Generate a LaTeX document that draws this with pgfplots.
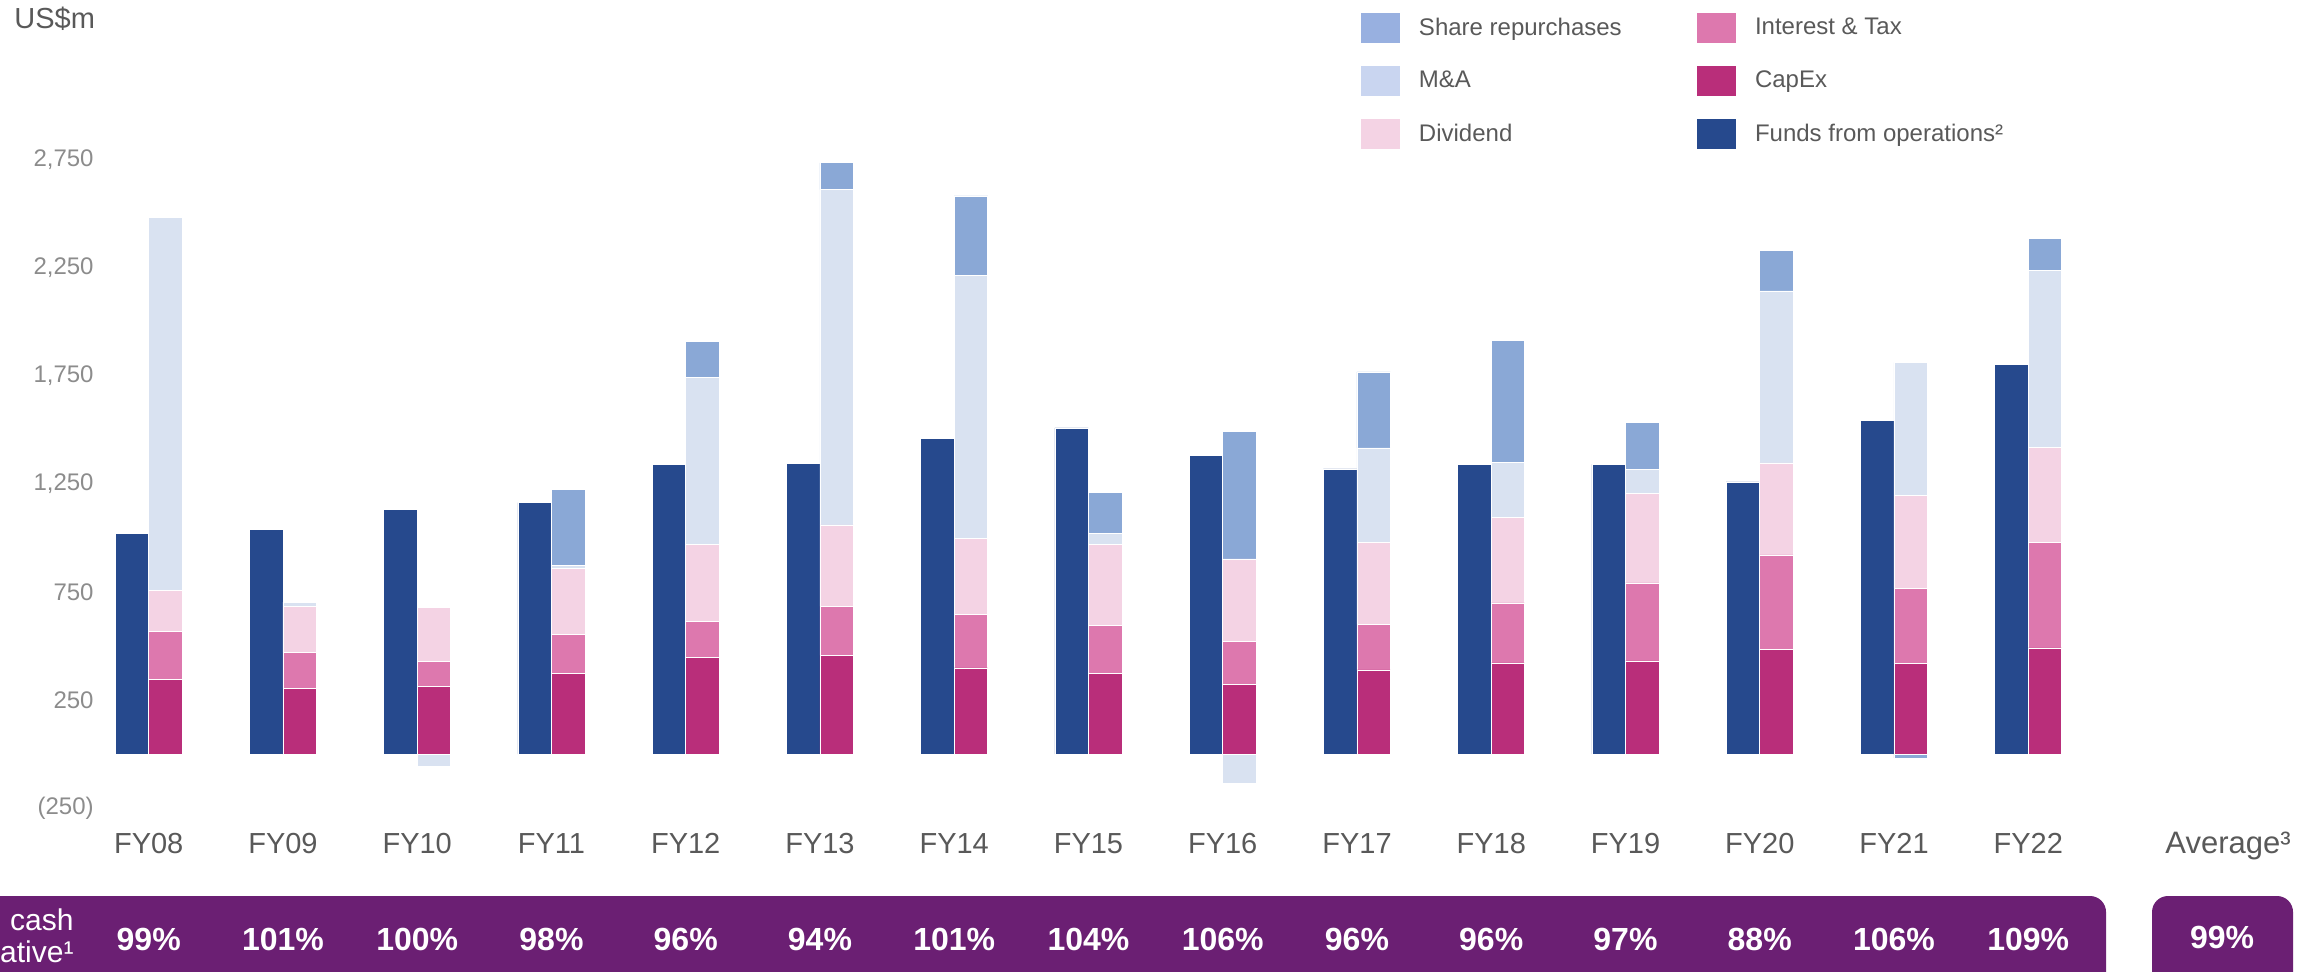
\documentclass[border=0pt]{standalone}
\usepackage{fontspec}
\setmainfont{Liberation Sans}
\usepackage{pgfplots}
\pgfplotsset{compat=1.18}
\usepackage{pgfplotstable}

\definecolor{funds}{RGB}{38,73,141}
\definecolor{share}{RGB}{138,168,214}
\definecolor{mna}{RGB}{217,226,241}
\definecolor{divd}{RGB}{244,211,228}
\definecolor{inttax}{RGB}{221,120,174}
\definecolor{capex}{RGB}{185,46,122}
\definecolor{shareL}{RGB}{152,176,224}
\definecolor{mnaL}{RGB}{201,213,240}
\definecolor{band}{RGB}{107,31,115}
\definecolor{lbl}{RGB}{89,89,89}
\definecolor{tickgray}{RGB}{140,140,140}

% US$m; negative M&A / share repurchases kept in separate columns
\pgfplotstableread{
x  funds capex inttax divd mna  share mnaneg shareneg
0  1023  344   223    192  1724 0     0      0
1  1040  303   166    215  19   0     0      0
2  1133  313   114    251  0    0     -59    0
3  1164  373   181    307  14   349   0      0
4  1342  449   165    358  773  165   0      0
5  1345  457   228    376  1552 124   0      0
6  1462  399   247    354  1215 369   0      0
7  1510  374   220    377  51   190   0      0
8  1384  321   201    381  0    590   -134   0
9  1320  389   212    380  436  352   0      0
10 1341  422   278    394  255  566   0      0
11 1341  431   361    415  112  218   0      0
12 1260  484   438    426  796  189   0      0
13 1546  418   349    431  615  0     0      -18
14 1805  491   488    442  818  149   0      0
}\data

\pgfplotsset{
  base/.style={scale only axis, width=1152.5pt, height=485.5pt,
    at={(0pt,0pt)}, anchor=south west,
    xmin=-1.1076, xmax=16.062, ymin=-1004.6, ymax=3490.7,
    axis line style={draw=none}, major tick length=0pt, xtick=\empty,
    bar width=0.25,
    legend cell align=left,
    legend style={draw=none, fill=none, inner sep=0pt, outer sep=0pt,
      row sep=11.5pt, font=\fontsize{12}{14}\selectfont, text=lbl,
      nodes={inner sep=0pt}, anchor=north west}},
  sw/.style={legend image code/.code={\path[##1, draw=none] (0pt,-7.5pt) rectangle (19.5pt,7.5pt); \path[draw=none, fill=none] (0pt,0pt) -- (29pt,0pt);}},
  seg/.style={draw=white, line width=0.3pt, forget plot},
}

\begin{document}
\begin{tikzpicture}
% Axis A: funds from operations and the negative outflows
\begin{axis}[base, ybar,
  ytick={-250,250,750,1250,1750,2250,2750},
  yticklabels={(250),250,750,{1,250},{1,750},{2,250},{2,750}},
  yticklabel style={anchor=east, inner sep=0pt, xshift=47pt,
    font=\fontsize{12}{14}\selectfont, text=tickgray},
  legend style={at={(0.73623,0.98661)}}]
\addplot[seg, fill=funds, bar shift=-0.125] table[x=x, y=funds] {\data};
\addplot[seg, fill=mna, bar shift=0.125] table[x=x, y=mnaneg] {\data};
\addplot[seg, fill=share, bar shift=0.125] table[x=x, y=shareneg] {\data};
\addlegendimage{sw, fill=inttax, draw=none}
\addlegendentry{Interest \& Tax}
\addlegendimage{sw, fill=capex, draw=none}
\addlegendentry{CapEx}
\addlegendimage{sw, fill=funds, draw=none}
\addlegendentry{Funds from operations²}
\end{axis}
% Axis B: stacked uses of cash
\begin{axis}[base, ybar stacked, ytick=\empty,
  legend style={at={(0.59046,0.98661)}}]
\addplot[seg, fill=capex, bar shift=0.125] table[x=x, y=capex] {\data};
\addplot[seg, fill=inttax, bar shift=0.125] table[x=x, y=inttax] {\data};
\addplot[seg, fill=divd, bar shift=0.125] table[x=x, y=divd] {\data};
\addplot[seg, fill=mna, bar shift=0.125] table[x=x, y=mna] {\data};
\addplot[seg, fill=share, bar shift=0.125] table[x=x, y=share] {\data};
\addlegendimage{sw, fill=shareL, draw=none}
\addlegendentry{Share repurchases}
\addlegendimage{sw, fill=mnaL, draw=none}
\addlegendentry{M\&A}
\addlegendimage{sw, fill=divd, draw=none}
\addlegendentry{Dividend}
\end{axis}

% unit label
\node[anchor=base west, inner sep=0pt, text=lbl, font=\fontsize{14.5}{16}\selectfont] at (7pt,471pt) {US\$m};

% purple bands
\fill[band, rounded corners=8pt] (-30pt,-30pt) rectangle (1053pt,37.5pt);
\fill[band, rounded corners=8pt] (1076pt,-30pt) rectangle (1146.5pt,37.5pt);
\node[anchor=base east, inner sep=0pt, text=white, font=\fontsize{15}{16}\selectfont] at (37pt,20.5pt) {Operating cash};
\node[anchor=base east, inner sep=0pt, text=white, font=\fontsize{15}{16}\selectfont] at (37pt,4.5pt) {conversion: cumulative¹};

% category labels and conversion percentages
\foreach \c/\lab/\pct in {0/FY08/99,1/FY09/101,2/FY10/100,3/FY11/98,4/FY12/96,5/FY13/94,6/FY14/101,7/FY15/104,8/FY16/106,9/FY17/96,10/FY18/96,11/FY19/97,12/FY20/88,13/FY21/106,14/FY22/109}{
  \pgfmathsetmacro\xx{0.5*(148.7+134.25*\c)}
  \node[anchor=base, inner sep=0pt, text=lbl, font=\fontsize{14.5}{16}\selectfont] at (\xx pt,59pt) {\lab};
  \node[anchor=base, inner sep=0pt, text=white, font=\fontsize{16}{18}\selectfont\bfseries] at (\xx pt,10.5pt) {\pct\%};
}
\node[anchor=base, inner sep=0pt, text=lbl, font=\fontsize{15.5}{17}\selectfont] at (1114pt,59pt) {Average³};
\node[anchor=base, inner sep=0pt, text=white, font=\fontsize{16}{18}\selectfont\bfseries] at (1111pt,11.5pt) {99\%};

\pgfresetboundingbox
\useasboundingbox (0pt,0pt) rectangle (1152.5pt,485.5pt);
\end{tikzpicture}
\end{document}
